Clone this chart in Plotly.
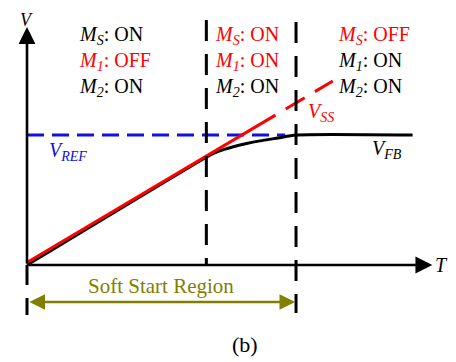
import plotly.graph_objects as go

# ---- data (conceptual units: time t, voltage v; V_REF = 1) ----
t_switch1 = 2.0          # M1 turns on
t_switch2 = 3.0          # MS turns off (end of soft start)
v_ref = 1.0

# soft-start ramp V_SS
vss_solid_t = [0.0, 2.77]
vss_solid_v = [0.02, 1.153]
vss_dash_t = [2.885, 3.41]
vss_dash_v = [1.2, 1.415]

# feedback voltage V_FB
vfb_t = [0.0, 2.0, 2.1, 2.2, 2.3, 2.45, 2.6, 2.8, 3.0, 4.3]
vfb_v = [0.0, 0.83, 0.865, 0.89, 0.91, 0.935, 0.955, 0.977, 1.0, 1.0]

# reference level
vref_t = [0.0, 2.88]
vref_v = [v_ref, v_ref]

# switch states per region: (label, text, colour)
col_left = [("S", "ON", "black"), ("1", "OFF", "red"), ("2", "ON", "black")]
col_mid = [("S", "ON", "red"), ("1", "ON", "red"), ("2", "ON", "black")]
col_right = [("S", "OFF", "red"), ("1", "ON", "black"), ("2", "ON", "black")]

FONT = "Liberation Serif"
OLIVE = "#7f7f00"
RED = "#ff0000"
BLUE = "#1010e0"

fig = go.Figure()

fig.add_trace(go.Scatter(x=vref_t, y=vref_v, mode="lines",
                         line=dict(color=BLUE, width=3, dash="17px,8px")))
fig.add_trace(go.Scatter(x=vfb_t, y=vfb_v, mode="lines", line_shape="spline",
                         line=dict(color="black", width=3, smoothing=0.6)))
fig.add_trace(go.Scatter(x=vss_solid_t, y=vss_solid_v, mode="lines",
                         line=dict(color=RED, width=3)))
fig.add_trace(go.Scatter(x=vss_dash_t, y=vss_dash_v, mode="lines",
                         line=dict(color=RED, width=3, dash="22px,12px")))

# vertical dashed region separators
fig.add_shape(type="line", x0=t_switch1, x1=t_switch1, y0=1.885, y1=0.0,
              line=dict(color="black", width=3, dash="21px,13px"))
fig.add_shape(type="line", x0=t_switch2, x1=t_switch2, y0=1.869, y1=-0.37,
              line=dict(color="black", width=3, dash="21px,13px"))
fig.add_shape(type="line", x0=0, x1=0, y0=0.0, y1=-0.385,
              line=dict(color="black", width=3, dash="20px,13px"))

# axes with arrows
fig.add_annotation(x=4.52, y=0, ax=0, ay=0, axref="x", ayref="y", xref="x", yref="y",
                   showarrow=True, arrowhead=2, arrowsize=1.3, arrowwidth=2.6,
                   arrowcolor="black", text="", standoff=0)
fig.add_annotation(x=0, y=1.83, ax=0, ay=0, axref="x", ayref="y", xref="x", yref="y",
                   showarrow=True, arrowhead=2, arrowsize=1.3, arrowwidth=2.6,
                   arrowcolor="black", text="", standoff=0)

# soft start region double arrow
fig.add_annotation(x=t_switch2 - 0.01, y=-0.285, ax=0.01, ay=-0.285, axref="x", ayref="y",
                   xref="x", yref="y", showarrow=True, arrowhead=2, startarrowhead=2,
                   arrowside="end+start", arrowsize=1.3, startarrowsize=1.3,
                   arrowwidth=2.4, arrowcolor=OLIVE, text="", standoff=0, startstandoff=0)
fig.add_annotation(x=1.49, y=-0.165, text="Soft Start Region", showarrow=False,
                   font=dict(family=FONT, size=21, color=OLIVE))
fig.add_annotation(x=2.43, y=-0.61, text="(b)", showarrow=False,
                   font=dict(family=FONT, size=22, color="black"))

# axis labels
fig.add_annotation(x=4.62, y=0.0, text="<i>T</i>", showarrow=False,
                   font=dict(family=FONT, size=20, color="black"))
fig.add_annotation(x=-0.01, y=1.885, text="<i>V</i>", showarrow=False, yanchor="middle",
                   font=dict(family=FONT, size=18, color="black"))

# curve labels
fig.add_annotation(x=0.22, y=0.877, text="<i>V</i><sub><i>REF</i></sub>", showarrow=False,
                   xanchor="left", font=dict(family=FONT, size=20, color=BLUE))
fig.add_annotation(x=3.11, y=1.177, text="<i>V</i><sub><i>SS</i></sub>", showarrow=False,
                   xanchor="left", font=dict(family=FONT, size=20, color=RED))
fig.add_annotation(x=3.83, y=0.885, text="<i>V</i><sub><i>FB</i></sub>", showarrow=False,
                   xanchor="left", font=dict(family=FONT, size=20, color="black"))

# switch-state text blocks
row_v = [1.762, 1.569, 1.362]
for x0, col in [(0.555, col_left), (2.07, col_mid), (3.445, col_right)]:
    for (sub, state, c), yv in zip(col, row_v):
        fig.add_annotation(x=x0, y=yv, xanchor="left", showarrow=False,
                           text=f"<i>M</i><sub><i>{sub}</i></sub>: {state}",
                           font=dict(family=FONT, size=20, color=RED if c == "red" else "black"))

# the page body adds an 8px offset; the figure covers reference pixels 8..456 x 8..362
fig.update_layout(
    width=448, height=354, margin=dict(l=0, r=0, t=0, b=0),
    paper_bgcolor="white", plot_bgcolor="white", showlegend=False,
    xaxis=dict(range=[-0.2119, 4.784], visible=False, fixedrange=True),
    yaxis=dict(range=[-0.746, 1.977], visible=False, fixedrange=True),
)

fig.write_html("out.html")
